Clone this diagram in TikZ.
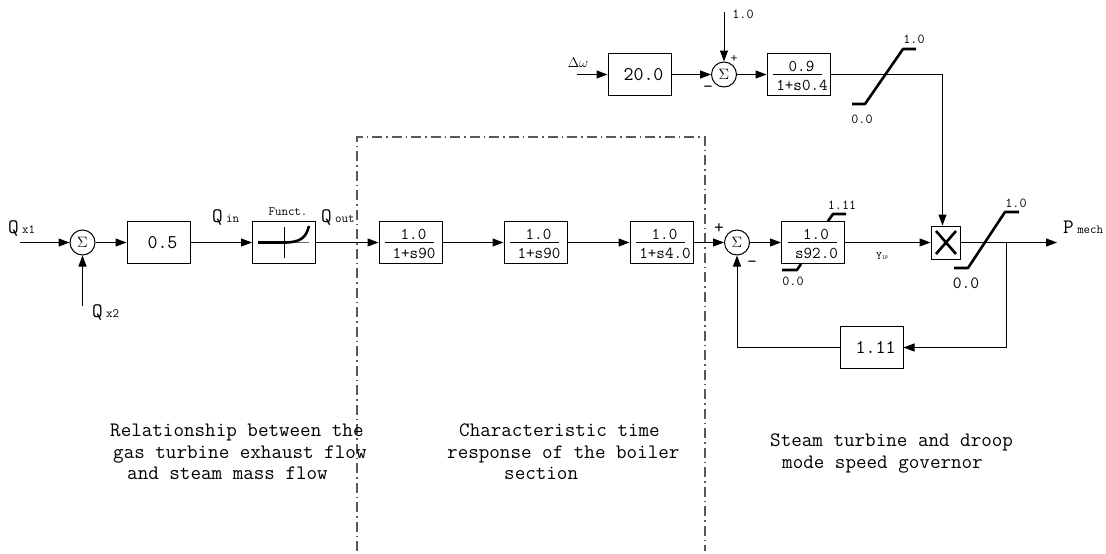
\documentclass[tikz,border=0pt]{standalone}
\usepackage{fix-cm}
\renewcommand{\familydefault}{\ttdefault}
\usetikzlibrary{arrows.meta}
\DeclareMathSizes{15}{15}{11}{9}
\DeclareMathSizes{14}{14}{10}{8}
\newcommand{\fsize}[1]{\fontsize{#1}{#1}\selectfont}
\newcommand{\sublabel}[2]{\fsize{20.6}#1\,\fsize{12.6}#2}
\tikzset{
  block/.style={draw, line width=1pt, rectangle, minimum width=63pt, minimum height=42pt, inner sep=0pt},
  gainblock/.style={block, font=\fsize{19.4}, execute at begin node={\hspace*{8pt}}},
  sumnode/.style={draw, line width=1pt, circle, minimum size=25pt, inner sep=0pt, font=\fsize{15}},
  limiter/.style={line width=2.6pt, line join=round},
  conn/.style={->, line width=1pt},
  zoneframe/.style={line width=1.3pt, black!65, dash pattern=on 10pt off 4pt on 1.5pt off 4pt},
  blocktxt/.style={inner sep=0pt, font=\fsize{16.6}},
  limtxt/.style={inner sep=0pt, font=\fsize{13.7}},
  notetxt/.style={inner sep=0pt, anchor=north west, align=left, font=\fontsize{20.5}{21.3}\selectfont}
}
\begin{document}
\begin{tikzpicture}[x=1pt, y=-1pt, >={Triangle[length=11pt,width=8pt]}]
  \useasboundingbox (0,0) rectangle (1106,554);

  % --- Zone frame ---
  \draw[zoneframe] (357,551) -- (357,137) -- (705,137) -- (705,551);

  % --- Sums ---
  \node[sumnode] (sum1) at (82.5,242.5) {$\Sigma$};
  \node[sumnode] (sum2) at (737,242.5) {$\Sigma$};
  \node[sumnode] (sum3) at (724,74.5) {$\Sigma$};

  % --- Gains ---
  \node[gainblock] (gain05) at (158.5,242.5) {0.5};
  \node[gainblock] (gain20) at (639.5,74.5) {20.0};
  \node[gainblock] (gainfb) at (871.5,347.5) {1.11};

  % --- Transfer function blocks ---
  \foreach \bname/\bx/\by/\bnum/\bden in {tfa/410.5/242.5/1.0/1+s90, tfb/535.5/242.5/1.0/1+s90,
      tfc/661.5/242.5/1.0/1+s4.0, tfd/813/242.5/1.0/s92.0, tfe/798.5/74.5/0.9/1+s0.4}
  {
    \node[block] (\bname) at (\bx,\by) {};
    \draw[line width=1pt] (\bx-25.5,\by) -- (\bx+23.5,\by);
    \node[blocktxt] at (\bx+3,\by-8) {\bnum};
    \node[blocktxt] at (\bx+3.5,\by+11) {\bden};
  }

  % --- Function block ---
  \node[block] (funct) at (284,242.5) {};
  \draw[line width=1pt, black!60] (258,242.5) -- (309,242.5);
  \draw[line width=1pt] (284,227) -- (284,258);
  \draw[limiter] (258,242.5) -- (284,242.5) .. controls (300,242.5) and (306,238) .. (309,226);

  % --- Multiplier ---
  \node[draw, line width=1pt, minimum width=29pt, minimum height=33pt, inner sep=0pt] (mult) at (945.5,242.5) {};
  \draw[line width=2.6pt] (936,231) -- (956,254) (956,231) -- (936,254);

  % --- Free ends and branch ---
  \coordinate (inqa) at (20,242.5);
  \coordinate (inqb) at (82.5,306);
  \coordinate (inw) at (577,74.5);
  \coordinate (inref) at (724,12);
  \coordinate (outp) at (1057,242.5);
  \coordinate (branch) at (1006,242.5);

  % --- Connectors ---
  \foreach \a/\b in {inqa/sum1, inqb/sum1, sum1/gain05, gain05/funct, funct/tfa, tfa/tfb, tfb/tfc,
      tfc/sum2, sum2/tfd, tfd/mult, mult/outp, inw/gain20, gain20/sum3, inref/sum3, sum3/tfe}
    \draw[conn] (\a) -- (\b);
  \draw[conn] (tfe.east) -| ([xshift=-3pt]mult.north);
  \draw[conn] (branch) |- (gainfb.east);
  \draw[conn] (gainfb.west) -| (sum2.south);

  % --- Limiters ---
  \draw[limiter] (852,104) -- (865,104) -- (903,49) -- (916,49);
  \draw[limiter] (954,268) -- (968,268) -- (1005,212) -- (1019,212);
  \draw[limiter] (828,221) -- (833,214) -- (846,214);
  \draw[limiter] (782,270) -- (797,270) -- (801,264);

  % --- Limit values ---
  \node[limtxt] (ltop) at (743,14) {1.0};
  \node[limtxt] (lehi) at (914,39) {1.0};
  \node[limtxt] (lelo) at (862,119) {0.0};
  \node[limtxt] (ldhi) at (842,205) {1.11};
  \node[limtxt] (ldlo) at (793,281) {0.0};
  \node[limtxt] (lphi) at (1016,203) {1.0};
  \node[inner sep=0pt, font=\fsize{17.1}] (lplo) at (966,283) {0.0};

  % --- Signal labels ---
  \node[inner sep=0pt, anchor=base west] (lqa) at (8,233) {\sublabel{Q}{x1}};
  \node[inner sep=0pt, anchor=base west] (lqb) at (92,317) {\sublabel{Q}{x2}};
  \node[inner sep=0pt, anchor=base west] (lqin) at (212,222) {\sublabel{Q}{in}};
  \node[inner sep=0pt, anchor=base west] (lqout) at (321,222) {\sublabel{Q}{out}};
  \node[inner sep=0pt, anchor=base west] (lp) at (1063,233) {\sublabel{P}{mech}};
  \node[inner sep=0pt, font=\fsize{12.6}] (lfunct) at (288,212) {Funct.};
  \node[inner sep=0pt, anchor=base west] (ly) at (876,259) {\fsize{11.4}Y\fsize{5.7}IP};
  \node[inner sep=0pt, font=\fsize{14}] (lw) at (578,63) {$\Delta\omega$};

  % --- Signs ---
  \node[inner sep=0pt, font=\fsize{19}] (pa) at (719,229) {+};
  \node[inner sep=0pt, font=\fsize{19}] (ma) at (752,264) {-};
  \node[inner sep=0pt, font=\fsize{13.5}] (pb) at (734,59) {+};
  \node[inner sep=0pt, font=\fsize{19}] (mb) at (708,89) {-};

  % --- Notes ---
  \node[notetxt] (notea) at (110,424) {Relationship between the\\\hspace*{3pt}gas turbine exhaust flow\\\hspace*{17pt}and steam mass flow};
  \node[notetxt] (noteb) at (447,424) {\hspace*{12pt}Characteristic time\\response of the boiler\\\hspace*{57pt}section};
  \node[notetxt] (notec) at (770,434) {Steam turbine and droop\\\hspace*{12pt}mode speed governor};

\end{tikzpicture}
\end{document}
